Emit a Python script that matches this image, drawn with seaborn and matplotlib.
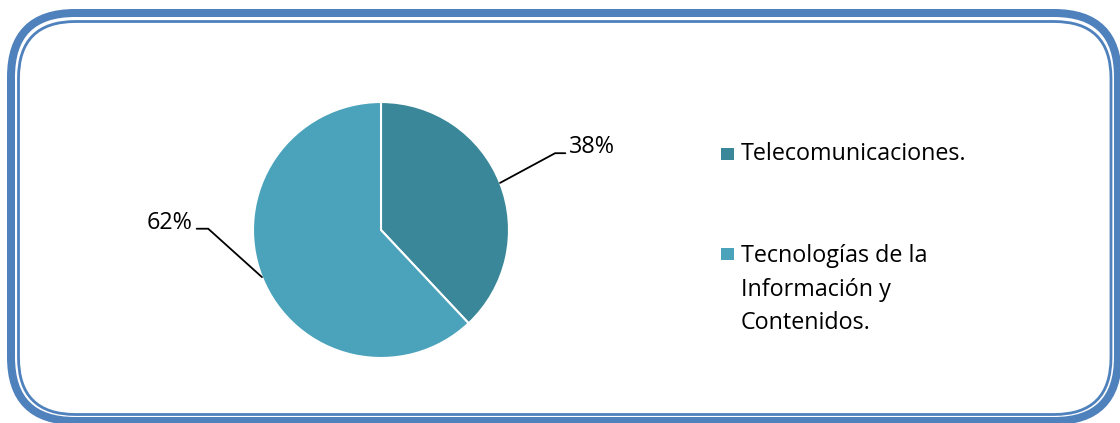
import matplotlib
matplotlib.use("Agg")
import matplotlib.pyplot as plt
import seaborn as sns
from matplotlib.patches import FancyBboxPatch, Rectangle

sns.set_theme(style="white")
plt.rcParams["font.family"] = ["Open Sans", "DejaVu Sans"]

# Data
categories = ["Telecomunicaciones.", "Tecnologías de la\nInformación y\nContenidos."]
shares = [38, 62]
colors = ["#3A8799", "#4AA3BB"]
border_color = "#4F81BD"

W, H = 1120, 423
fig = plt.figure(figsize=(W / 100, H / 100), dpi=100)
fig.patch.set_facecolor("white")

# Full-figure canvas in pixel units for the frame and legend
canvas = fig.add_axes([0, 0, 1, 1])
canvas.set_xlim(0, W)
canvas.set_ylim(H, 0)
canvas.axis("off")

px = 72 / 100  # points per pixel
FONT_SIZE = 16.8

def rounded(x0, y0, x1, y1, r, lw):
    canvas.add_patch(FancyBboxPatch((x0, y0), x1 - x0, y1 - y0,
                                    boxstyle=f"round,pad=0,rounding_size={r}",
                                    fill=False, edgecolor=border_color,
                                    linewidth=lw * px, clip_on=False))

rounded(11, 13, 1118, 421, 64, 8)
rounded(18.5, 21.5, 1111, 414.5, 57, 2.8)

# Pie
cx, cy, R = 381, 230, 128
pie_ax = fig.add_axes([(cx - R) / W, (H - cy - R) / H, 2 * R / W, 2 * R / H])
wedges, _ = pie_ax.pie(shares, colors=colors, startangle=90, counterclock=False,
                       radius=1, wedgeprops=dict(edgecolor="white", linewidth=1.5))
pie_ax.set_xlim(-1, 1)
pie_ax.set_ylim(-1, 1)
pie_ax.set_aspect("equal")
pie_ax.axis("off")

# Data labels with leader lines
label_geom = [
    # (edge point, elbow, line end, text x, ha)
    ((0.930, 0.368), (1.36, 0.60), (1.44, 0.60), 1.47, "left"),
    ((-0.930, -0.368), (-1.35, 0.01), (-1.44, 0.01), -1.47, "right"),
]
for share, (p0, p1, p2, tx, ha) in zip(shares, label_geom):
    pie_ax.plot([p0[0], p1[0], p2[0]], [p0[1], p1[1], p2[1]],
                color="black", linewidth=1.3, clip_on=False,
                solid_joinstyle="miter")
    pie_ax.text(tx, p2[1], f"{share}%", ha=ha, va="baseline",
                fontsize=FONT_SIZE, color="black", clip_on=False)

# Legend: square marker and label lines, first baseline level with the marker
legend_rows = [(148, 160), (248, 262)]
line_step = 33.5
for (sq_top, baseline), label, col in zip(legend_rows, categories, colors):
    canvas.add_patch(Rectangle((721, sq_top), 12.5, 12.5, facecolor=col,
                               edgecolor="none"))
    for i, line in enumerate(label.split("\n")):
        canvas.text(741, baseline + i * line_step, line, ha="left",
                    va="baseline", fontsize=FONT_SIZE, color="black")

fig.savefig("out.png", dpi=100, facecolor="white")
